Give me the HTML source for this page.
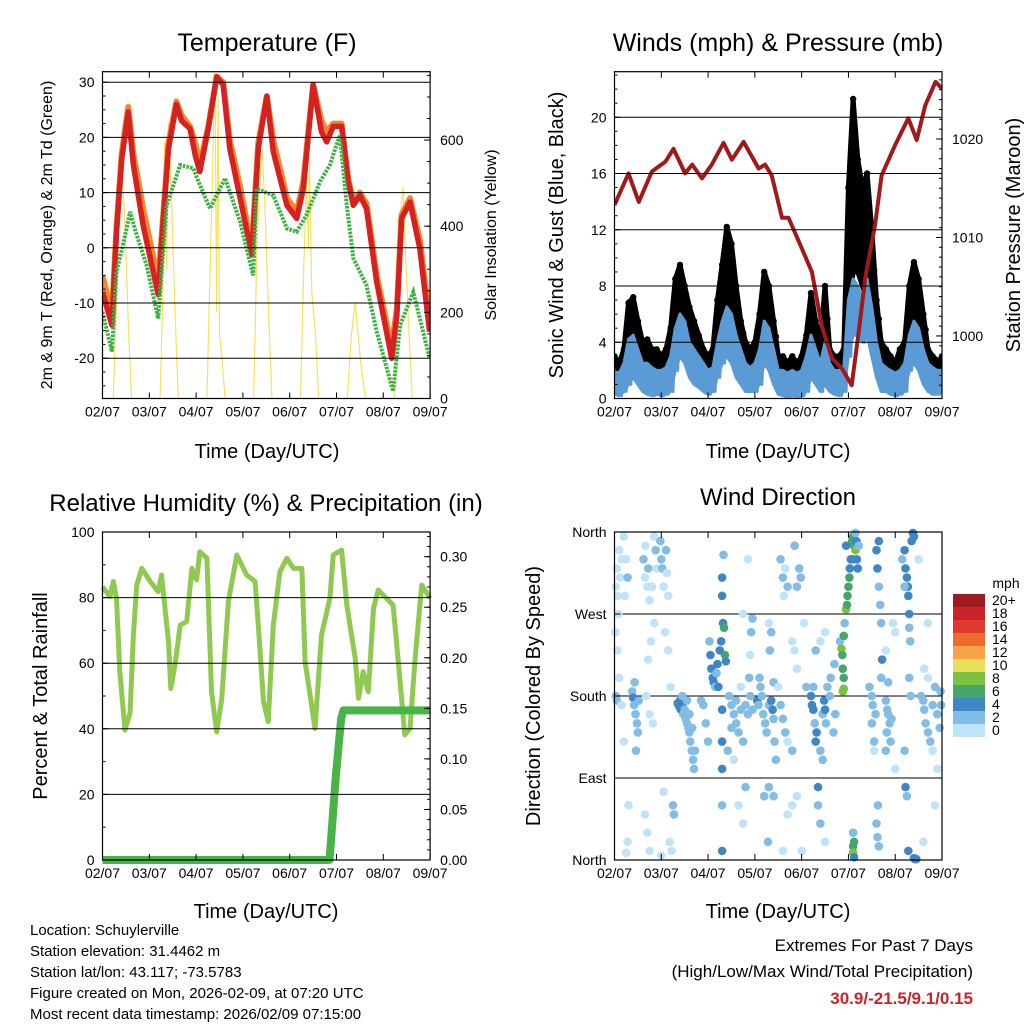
<!DOCTYPE html>
<html><head><meta charset="utf-8"><style>
body{margin:0;background:#fff;}
svg{display:block;font-family:"Liberation Sans",sans-serif;}
</style></head><body>
<svg id="c" width="1024" height="1024" viewBox="0 0 1024 1024" xmlns="http://www.w3.org/2000/svg"></svg>
<script>
// ---------- DATA ----------
const tempRed=[[0,-8],[0.2,-14],[0.3,2.9],[0.41,16],[0.55,24.6],[0.66,15],[0.87,4],[1.19,-8.5],[1.3,5.3],[1.41,18],[1.58,26],[1.69,23],[1.87,21.6],[1.98,16.8],[2.08,13.8],[2.26,21.6],[2.44,31],[2.58,29.5],[2.72,18],[2.94,9],[3.19,-1.3],[3.33,18],[3.51,27.4],[3.65,17.4],[3.94,7.7],[4.15,5.3],[4.29,10.7],[4.5,29.5],[4.68,21],[4.79,19.2],[4.93,22],[5.11,22],[5.25,12],[5.36,7.7],[5.5,9.5],[5.64,7.1],[5.86,-6.2],[6.18,-20],[6.29,-12.2],[6.39,5.3],[6.57,8.3],[6.78,-0.1],[6.99,-15.2]];
const tempOrange=[[0,-5],[0.2,-12],[0.3,3.5],[0.41,17],[0.55,25.5],[0.66,17],[0.87,7],[1.19,-6],[1.3,6],[1.41,19],[1.58,26.5],[1.69,24],[1.87,22],[1.98,19],[2.08,15],[2.26,22],[2.44,31],[2.58,30],[2.72,19.5],[2.94,11],[3.19,0],[3.33,19],[3.51,27.5],[3.65,19.5],[3.94,9],[4.15,6.5],[4.29,12],[4.5,29.5],[4.68,23],[4.79,21],[4.93,22.5],[5.11,22.5],[5.25,12.5],[5.36,8.5],[5.5,10],[5.64,8],[5.86,-5],[6.18,-18],[6.29,-11],[6.39,6],[6.57,9],[6.78,1.5],[6.99,-13]];
const dewGreen=[[0,-11.6],[0.2,-18.8],[0.3,-4.3],[0.45,1],[0.59,6.5],[0.73,2.3],[0.94,-3.1],[1.19,-12.8],[1.37,7.7],[1.66,15],[1.94,14.4],[2.08,11.4],[2.3,7.1],[2.62,12.6],[2.94,4.7],[3.22,-5],[3.29,10.7],[3.65,9.5],[3.94,3.5],[4.15,2.9],[4.36,5.9],[4.65,12],[4.86,15],[5.07,20.4],[5.22,7.7],[5.36,-1.9],[5.64,-6.8],[5.86,-15.2],[6.21,-26],[6.36,-14],[6.64,-8],[6.99,-20]];
const solar=[[0,0],[0.23,0],[0.29,200],[0.35,420],[0.41,550],[0.47,430],[0.55,180],[0.62,0],[1.23,0],[1.29,250],[1.33,600],[1.37,300],[1.41,640],[1.47,480],[1.55,200],[1.62,0],[2.23,0],[2.3,300],[2.36,560],[2.4,760],[2.44,200],[2.47,700],[2.5,150],[2.55,100],[2.62,0],[3.23,0],[3.3,350],[3.35,480],[3.41,580],[3.47,450],[3.55,200],[3.62,0],[4.23,0],[4.3,300],[4.36,520],[4.4,350],[4.42,565],[4.47,250],[4.55,150],[4.62,0],[5.23,0],[5.32,150],[5.4,224],[5.45,160],[5.52,80],[5.62,0],[6.23,0],[6.3,220],[6.36,420],[6.42,490],[6.47,350],[6.55,150],[6.62,0],[7,0]];
const gustHi=[3,2.5,3.5,6.8,7.2,5.5,4,4.2,3.5,3.5, 3,3.5,5,8.5,9.5,8,6.5,5.5,4.5,3.5, 3,3.5,7,9.5,12.2,11,8,5.5,4,3.5, 4,6,9,8,5.5,3,3,2.5,3,2.5, 3,4.5,7.5,5.5,4,8,3.5,3,3,3.5, 15,21.3,17,15,16,12,7,4,3.5,3, 2.5,3.5,4,8,9.7,8.5,6,3.5,3,2.5, 3];
const gustLo=[1.5,1.5,1.8,3,3.5,2.5,2,1.8,1.5,1.5, 1.5,1.5,2.5,4,5,4.5,3.5,3,2.5,2, 1.5,1.5,3,4,6,5.5,4,3,2,1.8, 2,3,4,4,2.5,1.5,1.5,1.5,1.5,1.5, 1.5,2,3.5,3,2,2.5,2,1.5,1.5,1.5, 6,9,9,8,7,5.5,3.5,2,1.8,1.5, 1.5,1.8,2,4,5,4.5,3,2,1.8,1.5, 1.8];
const windHi=[2,1.8,2.5,4.2,4.5,3.5,2.5,2.5,2.2,2, 2,2.2,3,5,6,5.5,4,3.5,3,2.5, 2,2.2,4,5.5,6.5,6,4.5,3.5,2.5,2.2, 2.5,3.5,5.5,5,3.5,2,2,1.8,2,1.8, 2,3,4.5,3.5,2.5,4,2.5,2,2,2.2, 7,8.5,8,7,8.5,6.5,4,2.5,2.2,2, 1.8,2,2.5,4.5,5.5,5,3.5,2.5,2.2,2, 2];
const windLo=[0.3,0.2,0.5,1,1.5,1,0.5,0.3,0.2,0.3, 0.2,0.3,0.5,2,3,2.5,1.5,1,0.8,0.5, 0.3,0.5,1.5,2.5,3,2.5,1.5,1,0.5,0.5, 0.5,1,2.5,2,1,0.3,0.2,0.1,0.2,0.1, 0.2,0.5,1.5,1,0.5,1,0.5,0.3,0.2,0.5, 3,4.5,4.5,4,4.5,3,1.5,0.5,0.5,0.3, 0.2,0.3,0.5,2,2.5,2,1,0.5,0.3,0.3, 0.5];
const pressure=[[0,1013.3],[0.3,1016.5],[0.52,1013.6],[0.8,1016.7],[1.09,1017.7],[1.26,1019],[1.51,1016.5],[1.66,1017.4],[1.87,1016],[2.08,1017.4],[2.33,1019.6],[2.51,1017.9],[2.76,1019.7],[3.08,1017],[3.22,1017.4],[3.36,1016.3],[3.58,1012],[3.72,1012],[3.94,1009.6],[4.22,1006.5],[4.43,1001],[4.65,997.7],[4.86,996.7],[5.07,995],[5.22,1000.4],[5.36,1005.9],[5.57,1011.3],[5.71,1016.3],[6.0,1019.4],[6.28,1022.1],[6.46,1019.9],[6.64,1023.4],[6.86,1025.8],[7.0,1025.1]];
const rh=[[0,83.3],[0.16,80.3],[0.23,84.9],[0.3,79.8],[0.37,57.4],[0.48,39.6],[0.59,45],[0.66,68.6],[0.73,83.8],[0.84,88.9],[1.02,84.9],[1.19,81.8],[1.26,86.9],[1.41,66.6],[1.46,52.3],[1.55,59.5],[1.66,71.6],[1.8,72.7],[1.91,88.9],[2.01,85.4],[2.08,94],[2.23,92],[2.33,51.3],[2.44,39.1],[2.55,49.3],[2.69,78.8],[2.87,93],[3.08,86.9],[3.26,84.9],[3.33,71.6],[3.44,48.3],[3.54,42.2],[3.65,71.6],[3.79,87.9],[3.94,92],[4.08,88.9],[4.26,88.9],[4.33,60.5],[4.54,40.1],[4.68,68.6],[4.86,79.8],[4.93,93],[5.11,94.5],[5.22,77.7],[5.4,61.5],[5.47,49.3],[5.57,57.4],[5.68,51.3],[5.79,76.7],[5.89,82.3],[6.07,79.8],[6.21,77.7],[6.32,60.5],[6.46,38.1],[6.57,40.1],[6.68,61.5],[6.82,83.8],[7.0,79.8]];
const precip=[[0,0],[4.85,0],[4.9,0.03],[4.98,0.08],[5.05,0.115],[5.1,0.14],[5.15,0.148],[7,0.148]];
const windDir=[[0.03,300,1],[0.05,320,1],[0.07,290,1],[0.1,340,1],[0.12,310,1.5],[0.15,330,1],[0.08,270,1],[0.02,250,1],[0.06,230,1],[0.03,180,3],[0.05,175,2],[0.2,355,1],[0.25,330,1],[0.28,310,3],[0.22,290,1],[0.1,200,1],[0.15,170,1],[0.2,130,1],[0.3,60,1],[0.28,20,1],[0.25,8,1],
[0.38,185,3],[0.4,178,4],[0.42,170,3],[0.45,160,3],[0.48,150,2.5],[0.5,140,2],[0.43,195,3],[0.46,120,2],[0.52,175,2],
[0.62,330,2],[0.65,310,1],[0.66,345,1],[0.7,300,1],[0.72,320,2],[0.75,285,1],[0.8,300,1],[0.85,260,1],[0.78,240,1],[0.72,220,1],[0.68,180,1],[0.75,160,1],[0.82,150,1],[0.65,50,1],[0.7,30,1],[0.75,10,1],[0.88,340,2],[0.9,320,1],[0.85,355,1.5],
[0.98,350,3],[1.0,330,2],[1.02,320,3],[1.05,300,1],[1.1,340,3],[1.12,315,1],[1.15,290,1],[1.08,250,1],[1.15,230,1],[1.2,190,1],[1.25,60,3],[1.27,50,2],[1.18,20,1],[1.22,10,1],[1.05,75,1],[1.0,5,1],
[1.35,172,4],[1.37,170,6],[1.39,168,5],[1.4,175,4],[1.42,165,4],[1.45,170,4],[1.47,160,3],[1.5,165,3],[1.52,155,3],[1.55,150,2],[1.58,145,2],[1.6,140,2],[1.62,130,2],[1.65,120,2],[1.68,110,2],[1.7,100,2],[1.72,120,2],[1.45,180,3],[1.55,175,3],[1.6,160,3],[1.66,145,2],
[1.85,175,3],[1.9,170,3],[1.95,150,2],[2.0,130,2],[2.03,240,3],[2.05,225,4],[2.07,210,4],[2.1,200,4],[2.12,195,4],[2.15,190,3],[2.18,205,3],[2.2,215,4],[2.22,190,4],[2.25,230,4],[2.28,240,5],[2.32,260,4],[2.34,255,6],[2.36,225,6],[2.38,218,4],[2.3,165,4],[2.3,130,4],[2.3,100,4],[2.3,60,3],[2.3,310,4],[2.3,290,4],[2.33,335,3],[2.3,10,4],
[2.45,180,2],[2.5,170,2],[2.55,160,2],[2.6,150,2],[2.65,140,2],[2.7,165,2],[2.75,130,2],[2.8,170,2],[2.85,160,2],[2.5,145,2],[2.6,175,2],[2.7,190,1],[2.42,120,2],[2.55,110,1],[2.65,60,1],[2.75,40,1],[2.8,80,2],[2.9,180,2],[2.95,165,3],[2.88,200,3],[2.9,225,1],[2.92,250,2],[2.95,265,2],[2.85,330,1],[2.75,270,1],
[3.05,175,4],[3.08,170,3],[3.1,200,2],[3.12,190,3],[3.15,180,2],[3.18,160,3],[3.22,150,2],[3.25,140,2],[3.3,170,3],[3.35,175,4],[3.38,165,4],[3.4,155,3],[3.32,230,2],[3.35,250,2],[3.3,260,1],[3.4,195,3],[3.42,130,2],[3.45,110,2],[3.2,70,2],[3.3,80,2],[3.4,70,2],[3.28,20,2],
[3.5,190,1],[3.55,170,2],[3.6,155,2],[3.65,140,2],[3.7,130,1],[3.8,120,2],[3.55,330,2],[3.6,310,2],[3.65,320,1],[3.7,300,2],[3.62,290,1],[3.85,230,1],[3.9,210,1],[3.85,345,2],[3.9,300,2],[3.95,320,3],[3.98,310,3],[3.8,60,1],[3.9,70,1],[3.7,50,1],[4.0,10,1],[3.6,10,1],[3.8,240,1],[4.05,260,1],[4.1,190,2],
[4.2,180,4],[4.22,170,4],[4.25,165,4],[4.28,150,3],[4.3,130,4],[4.32,140,4],[4.25,190,3],[4.35,80,4],[4.35,60,3],[4.4,40,2],[4.4,120,2],[4.45,160,3],[4.48,175,4],[4.5,165,4],[4.52,150,3],[4.45,110,2],[4.55,190,2],[4.6,180,2],[4.62,200,2],[4.7,215,3],[4.72,160,3],[4.68,140,2],[4.3,230,2],[4.4,240,1],[4.5,250,1],[4.5,20,1],
[4.82,240,2],[4.85,232,8],[4.87,225,6],[4.88,210,6],[4.9,200,7],[4.9,188,8],[4.88,185,8],[4.9,246,7],[4.92,260,3],[4.95,275,8],[4.97,280,7],[4.98,290,6],[5.0,300,6],[5.02,310,7],[5.03,320,5],[5.05,330,4],[5.08,350,6],[5.1,355,6],[5.12,345,7],[5.15,340,8],[5.18,330,5],[5.2,320,4],[5.17,350,4],[5.22,345,3],[5.1,330,4],[4.95,345,4],[5.15,359,3],
[5.1,30,3],[5.1,15,7],[5.1,8,8],[5.12,20,6],[5.12,3,4],
[5.6,340,4],[5.62,320,4],[5.65,300,3],[5.68,280,3],[5.7,260,3],[5.72,220,4],[5.7,200,3],[5.65,350,4],[5.63,60,3],[5.6,40,3],[5.62,25,3],[5.65,15,3],[5.5,180,2],[5.52,170,2],[5.5,150,2],[5.55,130,3],[5.45,190,2],[5.58,160,2],[5.55,120,1],
[5.8,175,3],[5.83,165,2],[5.85,160,2],[5.88,150,2],[5.82,140,2],[5.9,130,3],[5.92,155,2],[5.85,195,2],[5.8,230,1],[5.95,260,1],[6.0,100,1],[6.0,250,1],[5.8,120,3],
[6.2,340,4],[6.22,320,4],[6.25,310,5],[6.27,300,4],[6.28,290,4],[6.3,270,4],[6.3,255,3],[6.32,240,3],[6.3,200,3],[6.35,350,5],[6.38,359,4],[6.4,355,5],[6.33,180,2],[6.2,120,2],[6.22,80,4],[6.25,70,3],[6.28,10,4],[6.4,2,4],[6.42,1,5],[6.45,1,4],[6.2,300,3],[6.15,330,3],
[6.55,180,3],[6.6,175,2],[6.62,165,2],[6.65,150,2],[6.7,140,2],[6.75,130,2],[6.8,170,3],[6.85,190,2],[6.9,160,2],[6.95,145,2],[6.98,170,2],[6.7,200,1],[6.8,120,1],[6.9,100,1],[6.6,20,1],[6.85,60,1],[6.5,330,1],[6.7,260,1],[6.62,210,1],[6.97,185,3]];
const xTickLabels=["02/07","03/07","04/07","05/07","06/07","07/07","08/07","09/07"];
const speedLabels=["20+","18","16","14","12","10","8","6","4","2","0"];
const speedColors=["#9e1a1d","#c8242a","#e03a2c","#ee6a2f","#f6a34a","#e8df5a","#7dc142","#45a56a","#3f86c4","#83bde6","#bfe4f8"];

// ---------- HELPERS ----------
const NS="http://www.w3.org/2000/svg";
const svg=document.getElementById('c');
function el(tag,attrs,parent,text){
  const e=document.createElementNS(NS,tag);
  for(const k in attrs)e.setAttribute(k,attrs[k]);
  if(text!==undefined)e.textContent=text;
  (parent||svg).appendChild(e);return e;
}
function lin(d0,d1,r0,r1){return v=>r0+(v-d0)*(r1-r0)/(d1-d0);}
function txt(x,y,s,size,anchor,parent,name,extra){
  const t=el('text',Object.assign({x:x,y:y,'font-size':size,'text-anchor':anchor||'middle',fill:'#000'},extra||{}),parent,s);
  
  
  return t;
}
function path(pts,sx,sy){return pts.map((p,i)=>(i?'L':'M')+sx(p[0]).toFixed(1)+' '+sy(p[1]).toFixed(1)).join('');}

function frame(g,L,R,T,B,sx,leftTicks,leftMinor,syL,rightTicks,rightMinor,syR,grid){
  grid.forEach(v=>{const l=el('line',{x1:L,x2:R,y1:syL(v),y2:syL(v),stroke:'#000','stroke-width':1},g);
    });
  for(let d=0;d<=7;d++){
    const x=sx(d);
    el('line',{x1:x,x2:x,y1:B,y2:B-6,stroke:'#000'},g);
    el('line',{x1:x,x2:x,y1:T,y2:T+6,stroke:'#000'},g);
    txt(x,B+18,xTickLabels[d],14,'middle',g,'x-tick-label');
  }
  leftMinor.forEach(v=>{el('line',{x1:L,x2:L+3,y1:syL(v),y2:syL(v),stroke:'#000'},g);});
  leftTicks.forEach(v=>{el('line',{x1:L,x2:L+6,y1:syL(v[0]),y2:syL(v[0]),stroke:'#000'},g);
    txt(L-8,syL(v[0])+5,v[1],14,'end',g,'left-tick-label');});
  rightMinor.forEach(v=>{el('line',{x1:R,x2:R-3,y1:syR(v),y2:syR(v),stroke:'#000'},g);});
  rightTicks.forEach(v=>{el('line',{x1:R,x2:R-6,y1:syR(v[0]),y2:syR(v[0]),stroke:'#000'},g);
    txt(R+10,syR(v[0])+5,v[1],14,'start',g,'right-tick-label');});
  const f=el('rect',{x:L,y:T,width:R-L,height:B-T,fill:'none',stroke:'#000','stroke-width':1.2},g);
  
}
function range(a,b,s){const r=[];for(let v=a;v<=b+1e-9;v+=s)r.push(+v.toFixed(4));return r;}

// ---------- PANEL 1: TEMPERATURE ----------
(function(){
  const g=el('g',{});
  const L=102.5,R=430.1,T=71.7,B=398.5;
  const sx=lin(0,7,L,R), sy=lin(-27.3,31.9,B,T), sS=lin(0,758.6,B,T);
  const clip=el('clipPath',{id:'cp1'},g);el('rect',{x:L,y:T,width:R-L,height:B-T},clip);
  const pg=el('g',{'clip-path':'url(#cp1)'},g);
  const ys=el('path',{d:path(solar,sx,sS),fill:'none',stroke:'#f7e25a','stroke-width':1.2},pg);
  
  const o=el('path',{d:path(tempOrange,sx,sy),fill:'none',stroke:'#f4872c','stroke-width':6,'stroke-linejoin':'round'},pg);
  
  const r=el('path',{d:path(tempRed,sx,sy),fill:'none',stroke:'#d42222','stroke-width':5.5,'stroke-linejoin':'round'},pg);
  
  const gr=el('path',{d:path(dewGreen,sx,sy),fill:'none',stroke:'#3fb143','stroke-width':4,'stroke-dasharray':'2.5 1.2'},pg);
  
  frame(g,L,R,T,B,sx,[-20,-10,0,10,20,30].map(v=>[v,String(v)]),range(-25,30,2.5),sy,
    [0,200,400,600].map(v=>[v,String(v)]),range(0,750,50),sS,[-20,-10,0,10,20,30]);
  txt(267,51,'Temperature (F)',25,'middle',g,'chart-title');
  txt(267,458,'Time (Day/UTC)',20,'middle',g,'x-axis-title');
  txt(0,0,'2m & 9m T (Red, Orange) & 2m Td (Green)',16,'middle',g,'y-axis-title',{transform:'translate(52,235) rotate(-90)'});
  txt(0,0,'Solar Insolation (Yellow)',16,'middle',g,'right-axis-title',{transform:'translate(496,235) rotate(-90)'});
})();

// ---------- PANEL 2: WINDS ----------
(function(){
  const g=el('g',{});
  const L=614.5,R=942,T=71.7,B=398.5;
  const sx=lin(0,7,L,R), sy=lin(0,23.24,B,T), sP=lin(993.65,1026.83,B,T);
  const clip=el('clipPath',{id:'cp2'},g);el('rect',{x:L,y:T,width:R-L,height:B-T},clip);
  const pg=el('g',{'clip-path':'url(#cp2)'},g);
  // gust band
  const hiPts=gustHi.map((v,i)=>[i*0.1,v]);
  const loPts=gustLo.map((v,i)=>[i*0.1,v]).reverse();
  const band=el('path',{d:path(hiPts.concat(loPts),sx,sy)+'Z',fill:'#000',stroke:'#000','stroke-width':5,'stroke-linejoin':'round'},pg);
  
  const gd=el('g',{fill:'#000'},pg);
  gustHi.forEach((v,i)=>{
    const t=i*0.1;
    [[t,v],[t+0.05,(v+gustLo[i])/2+0.4]].forEach(p=>{
      if(p[0]>7)return;
      const c=el('circle',{cx:sx(p[0]),cy:sy(p[1]),r:3.2},gd);
      
      
    });
  });
  // wind band
  const whi=windHi.map((v,i)=>[i*0.1,v]);
  const wlo=windLo.map((v,i)=>[i*0.1,v]).reverse();
  const wb=el('path',{d:path(whi.concat(wlo),sx,sy)+'Z',fill:'#5b9bd5',stroke:'#5b9bd5','stroke-width':3,'stroke-linejoin':'round'},pg);
  
  const wpath=[];windHi.forEach((v,i)=>{wpath.push([i*0.1,v]);wpath.push([i*0.1+0.05,windLo[i]]);});
  const wl=el('path',{d:path(wpath.filter(p=>p[0]<=7),sx,sy),fill:'none',stroke:'#5b9bd5','stroke-width':3,'stroke-linejoin':'round'},pg);
  
  const pl=el('path',{d:path(pressure,sx,sP),fill:'none',stroke:'#a01a1a','stroke-width':4,'stroke-linejoin':'round'},pg);
  
  frame(g,L,R,T,B,sx,[0,4,8,12,16,20].map(v=>[v,String(v)]),range(0,23,1),sy,
    [1000,1010,1020].map(v=>[v,String(v)]),range(995,1026,1),sP,[4,8,12,16,20]);
  txt(778,51,'Winds (mph) & Pressure (mb)',25,'middle',g,'chart-title');
  txt(778,458,'Time (Day/UTC)',20,'middle',g,'x-axis-title');
  txt(0,0,'Sonic Wind & Gust (Blue, Black)',20,'middle',g,'y-axis-title',{transform:'translate(563,235) rotate(-90)'});
  txt(0,0,'Station Pressure (Maroon)',20,'middle',g,'right-axis-title',{transform:'translate(1020,235) rotate(-90)'});
})();

// ---------- PANEL 3: RH ----------
(function(){
  const g=el('g',{});
  const L=102.5,R=430.1,T=532,B=860;
  const sx=lin(0,7,L,R), sy=lin(0,100,B,T), sP=lin(0,0.3244,B,T);
  const clip=el('clipPath',{id:'cp3'},g);el('rect',{x:L-4,y:T,width:R-L+8,height:B-T+6},clip);
  const pg=el('g',{'clip-path':'url(#cp3)'},g);
  const rl=el('path',{d:path(rh,sx,sy),fill:'none',stroke:'#8fc950','stroke-width':5,'stroke-linejoin':'round'},pg);
  
  const pl=el('path',{d:path(precip,sx,sP),fill:'none',stroke:'#47b447','stroke-width':8,'stroke-linejoin':'round'},pg);
  
  frame(g,L,R,T,B,sx,[0,20,40,60,80,100].map(v=>[v,String(v)]),range(0,100,10),sy,
    [0,0.05,0.1,0.15,0.2,0.25,0.3].map(v=>[v,v.toFixed(2)]),range(0,0.32,0.01),sP,[20,40,60,80]);
  txt(266,511,'Relative Humidity (%) & Precipitation (in)',24,'middle',g,'chart-title');
  txt(266,918,'Time (Day/UTC)',20,'middle',g,'x-axis-title');
  txt(0,0,'Percent & Total Rainfall',20,'middle',g,'y-axis-title',{transform:'translate(47,696) rotate(-90)'});
})();

// ---------- PANEL 4: WIND DIRECTION ----------
(function(){
  const g=el('g',{});
  const L=614.5,R=942,T=532,B=860;
  const sx=lin(0,7,L,R), sy=lin(0,360,B,T);
  function col(s){let i=10-Math.floor(s/2);if(i<0)i=0;if(i>10)i=10;return speedColors[i];}
  [90,180,270].forEach(v=>el('line',{x1:L,x2:R,y1:sy(v),y2:sy(v),stroke:'#000'},g));
  const dg=el('g',{},g);
  windDir.forEach(p=>{
    const c=el('circle',{cx:sx(p[0]),cy:sy(p[1]),r:4.3,fill:col(p[2])},dg);
    
    
  });
  for(let d=0;d<=7;d++){const x=sx(d);
    el('line',{x1:x,x2:x,y1:B,y2:B-6,stroke:'#000'},g);el('line',{x1:x,x2:x,y1:T,y2:T+6,stroke:'#000'},g);
    txt(x,B+18,xTickLabels[d],14,'middle',g,'x-tick-label');}
  [[360,'North'],[270,'West'],[180,'South'],[90,'East'],[0,'North']].forEach(v=>{
    el('line',{x1:L,x2:L+6,y1:sy(v[0]),y2:sy(v[0]),stroke:'#000'},g);
    el('line',{x1:R,x2:R-6,y1:sy(v[0]),y2:sy(v[0]),stroke:'#000'},g);
    txt(L-8,sy(v[0])+5,v[1],14,'end',g,'direction-tick-label');});
  const f=el('rect',{x:L,y:T,width:R-L,height:B-T,fill:'none',stroke:'#000','stroke-width':1.2},g);
  
  txt(778,505,'Wind Direction',24,'middle',g,'chart-title');
  txt(778,918,'Time (Day/UTC)',20,'middle',g,'x-axis-title');
  txt(0,0,'Direction (Colored By Speed)',20,'middle',g,'y-axis-title',{transform:'translate(540,696) rotate(-90)'});
  const cb=el('g',{},g);
  txt(1006,588,'mph',14,'middle',cb,'colorbar-title');
  speedLabels.forEach((s,i)=>{
    const y=594+i*13;
    const rct=el('rect',{x:953,y:y,width:32,height:13,fill:speedColors[i]},cb);
    
    
    txt(992,y+11,s,14,'start',cb,'colorbar-label');
  });
})();

// ---------- FOOTER ----------
(function(){
  const g=el('g',{});
  const lines=['Location: Schuylerville','Station elevation: 31.4462 m','Station lat/lon: 43.117; -73.5783','Figure created on Mon, 2026-02-09, at 07:20 UTC','Most recent data timestamp: 2026/02/09 07:15:00'];
  lines.forEach((s,i)=>txt(30,935+i*21,s,15,'start',g,'station-info-line'));
  txt(973,951,'Extremes For Past 7 Days',17,'end',g,'extremes-title');
  txt(973,977,'(High/Low/Max Wind/Total Precipitation)',17,'end',g,'extremes-subtitle');
  txt(973,1004,'30.9/-21.5/9.1/0.15',17,'end',g,'extremes-values',{fill:'#c8242a','font-weight':'bold'});
})();
</script>
</body></html>
